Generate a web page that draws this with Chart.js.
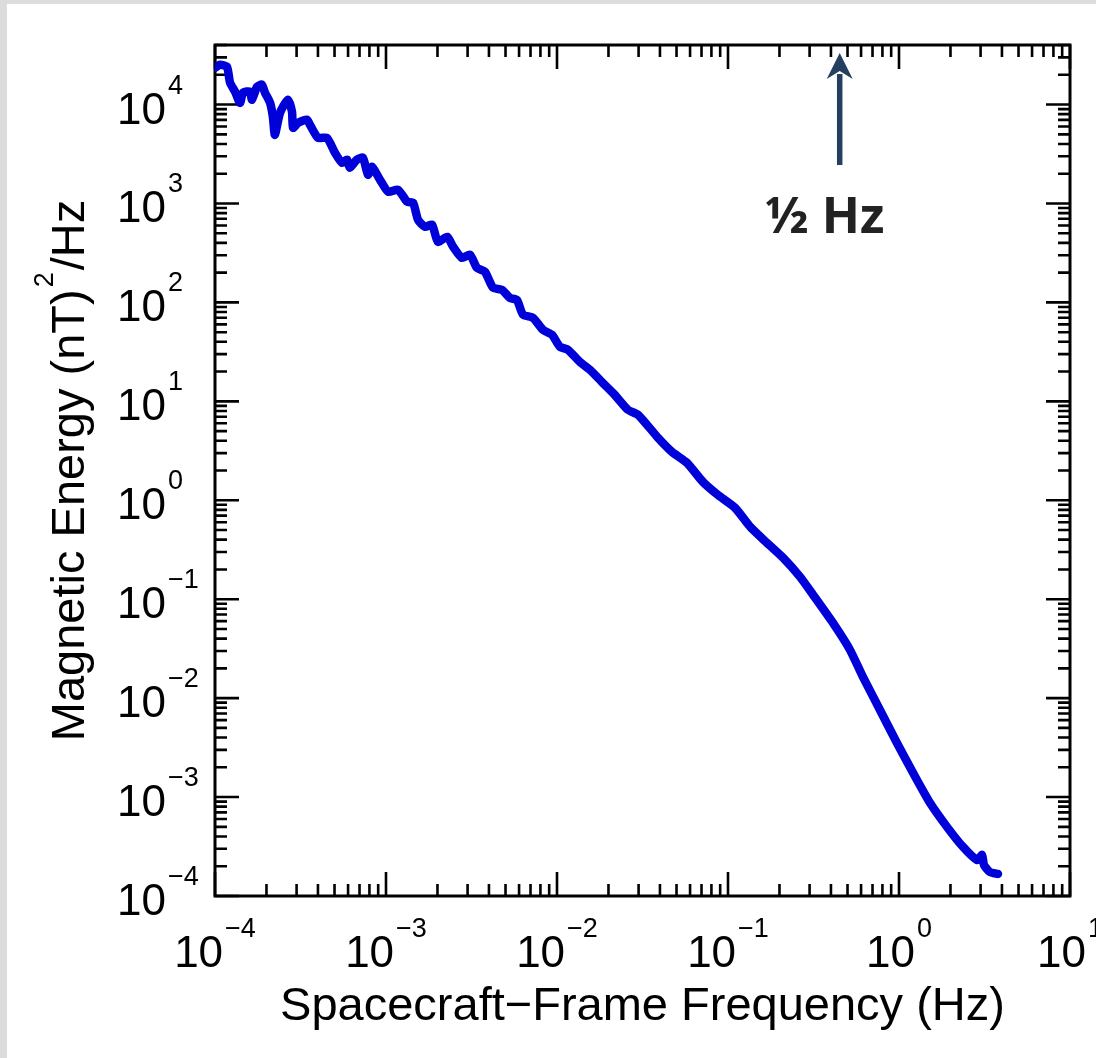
<!DOCTYPE html>
<html>
<head>
<meta charset="utf-8">
<script src="https://cdn.jsdelivr.net/npm/chart.js@4.4.1/dist/chart.umd.min.js"></script>
<style>
  html,body{margin:0;padding:0;background:#dcdcdc;overflow:hidden}
  #panel{position:absolute;left:7px;top:4px;right:0;bottom:0;background:#fff}
  #wrap{position:absolute;left:0;top:0;width:1096px;height:1058px}
</style>
</head>
<body>
<div id="panel"></div>
<div id="wrap"><canvas id="psd" width="1096" height="1058"></canvas></div>
<script>
/* spectrum */
const freq = [
  1.00e-4,1.07e-4,1.175e-4,1.225e-4,1.31e-4,1.40e-4,1.46e-4,1.60e-4,1.645e-4,1.76e-4,
  1.88e-4,1.96e-4,2.10e-4,2.18e-4,2.24e-4,2.40e-4,2.67e-4,2.82e-4,2.86e-4,3.06e-4,
  3.45e-4,3.59e-4,4.00e-4,4.52e-4,5.03e-4,5.53e-4,5.92e-4,6.15e-4,6.76e-4,7.33e-4,
  7.85e-4,8.28e-4,9.22e-4,1.03e-3,1.175e-3,1.33e-3,1.44e-3,1.54e-3,1.69e-3,1.86e-3,
  2.01e-3,2.28e-3,2.47e-3,2.78e-3,3.10e-3,3.40e-3,3.79e-3,4.22e-3,4.77e-3,5.31e-3,
  5.83e-3,6.33e-3,7.24e-3,8.28e-3,9.35e-3,1.04e-2,1.16e-2,1.36e-2,1.56e-2,1.83e-2,
  2.18e-2,2.60e-2,2.98e-2,3.90e-2,4.71e-2,5.76e-2,7.14e-2,8.74e-2,0.110,0.135,
  0.169,0.210,0.264,0.314,0.411,0.517,0.615,0.774,0.973,1.21,
  1.52,1.91,2.37,2.86,3.06,3.14,3.40,3.79
];
const energy = [
  2.35e4,2.52e4,2.41e4,1.66e4,1.35e4,1.04e4,1.32e4,1.35e4,1.12e4,1.51e4,
  1.59e4,1.32e4,1.04e4,7.53e3,4.95e3,8.26e3,1.12e4,8.45e3,5.82e3,6.54e3,
  7.02e3,6.25e3,4.61e3,4.61e3,3.26e3,2.58e3,2.77e3,2.30e3,2.77e3,2.90e3,
  1.95e3,2.35e3,1.74e3,1.31e3,1.38e3,1.04e3,1.02e3,684,581,609,
  410,460,365,282,303,224,204,141,134,111,
  106,75.0,69.9,52.8,47.0,35.6,33.2,25.1,20.8,15.7,
  11.6,8.20,7.31,4.28,3.08,2.39,1.53,1.13,0.838,0.538,
  0.371,0.262,0.168,0.111,0.0575,0.0307,0.0164,7.60e-3,3.52e-3,1.75e-3,
  8.71e-4,4.99e-4,3.13e-4,2.31e-4,2.60e-4,2.06e-4,1.75e-4,1.67e-4
];

/* axes */
const xDecades = [-4,-3,-2,-1,0,1];
const yDecades = [-4,-3,-2,-1,0,1,2,3,4];
const xTitle = "Spacecraft\u2212Frame Frequency (Hz)";
const yTitleParts = ["Magnetic Energy (nT)", "2", "/Hz"];

/* annotation */
const markFreq = 0.45;
const markText = "\u00bd Hz";

function expText(d){
  return d < 0 ? "\u2212" + (-d) : String(d);
}

const framePlugin = {
  id: 'frame',
  beforeDatasetsDraw(chart){
    const {ctx, chartArea:a, scales:{x, y}} = chart;
    ctx.save();
    ctx.strokeStyle = '#000';
    ctx.lineWidth = 2.6;
    ctx.beginPath();
    xDecades.forEach(d=>{
      for(let m=1;m<=9;m++){
        const v = m*Math.pow(10,d);
        if(v < x.min*0.999 || v > x.max*1.001) continue;
        const px = x.getPixelForValue(v);
        const len = m===1 ? 24 : 12;
        ctx.moveTo(px, a.bottom); ctx.lineTo(px, a.bottom-len);
        ctx.moveTo(px, a.top); ctx.lineTo(px, a.top+len);
      }
    });
    yDecades.forEach(d=>{
      for(let m=1;m<=9;m++){
        const v = m*Math.pow(10,d);
        if(v < y.min*0.999 || v > y.max*1.001) continue;
        const py = y.getPixelForValue(v);
        const len = m===1 ? 24 : 12;
        ctx.moveTo(a.left, py); ctx.lineTo(a.left+len, py);
        ctx.moveTo(a.right, py); ctx.lineTo(a.right-len, py);
      }
    });
    ctx.stroke();
    ctx.lineWidth = 3;
    ctx.strokeRect(a.left, a.top, a.right-a.left, a.bottom-a.top);
    ctx.restore();
  },
  afterDraw(chart){
    const {ctx, chartArea:a, scales:{x, y}} = chart;
    const big = '44px "Liberation Sans", Arial, sans-serif';
    const small = '27px "Liberation Sans", Arial, sans-serif';
    ctx.save();
    ctx.fillStyle = '#000';
    ctx.textBaseline = 'alphabetic';

    // x tick labels
    xDecades.forEach(d=>{
      const px = x.getPixelForValue(Math.pow(10,d));
      ctx.font = big;
      const w1 = ctx.measureText("10").width;
      ctx.font = small;
      const w2 = ctx.measureText(expText(d)).width;
      const x0 = px - (w1+2+w2)/2;
      ctx.textAlign = 'left';
      ctx.font = big;
      ctx.fillText("10", x0, a.bottom+71);
      ctx.font = small;
      ctx.fillText(expText(d), x0+w1+2, a.bottom+41);
    });

    // y tick labels
    yDecades.forEach(d=>{
      const py = y.getPixelForValue(Math.pow(10,d));
      ctx.font = big;
      ctx.textAlign = 'right';
      ctx.fillText("10", a.left-49, py+19);
      ctx.font = small;
      ctx.textAlign = 'left';
      ctx.fillText(expText(d), a.left-47, py-11);
    });

    // x title
    ctx.font = '47px "Liberation Sans", Arial, sans-serif';
    ctx.textAlign = 'center';
    ctx.fillText(xTitle, (a.left+a.right)/2, 1020);

    // y title with superscript
    ctx.save();
    ctx.translate(84, (a.top+a.bottom)/2);
    ctx.rotate(-Math.PI/2);
    ctx.textAlign = 'left';
    const tf = '47px "Liberation Sans", Arial, sans-serif';
    ctx.font = tf;
    const wA = ctx.measureText(yTitleParts[0]).width;
    const wC = ctx.measureText(yTitleParts[2]).width;
    ctx.font = small;
    const wB = ctx.measureText(yTitleParts[1]).width;
    let tx = -(wA+wB+4+wC)/2;
    ctx.font = tf;
    ctx.fillText(yTitleParts[0], tx, 0);
    ctx.font = small;
    ctx.fillText(yTitleParts[1], tx+wA+2, -31);
    ctx.font = tf;
    ctx.fillText(yTitleParts[2], tx+wA+wB+4, 0);
    ctx.restore();

    // ½ Hz arrow
    const ax = x.getPixelForValue(markFreq);
    ctx.strokeStyle = '#243f60';
    ctx.fillStyle = '#243f60';
    ctx.lineWidth = 5.5;
    ctx.beginPath();
    ctx.moveTo(ax, 165); ctx.lineTo(ax, 74);
    ctx.stroke();
    ctx.beginPath();
    ctx.moveTo(ax, 53);
    ctx.lineTo(ax+13, 79);
    ctx.lineTo(ax, 71);
    ctx.lineTo(ax-13, 79);
    ctx.closePath();
    ctx.fill();

    ctx.fillStyle = '#222';
    ctx.font = 'bold 50px "Open Sans", sans-serif';
    ctx.textAlign = 'center';
    ctx.fillText(markText, ax-15, 233);
    ctx.restore();
  }
};

new Chart(document.getElementById('psd'), {
  type: 'line',
  data: {
    datasets: [{
      data: freq.map((f,i)=>({x:f, y:energy[i]})),
      borderColor: '#0000d8',
      borderWidth: 8.5,
      borderCapStyle: 'round',
      borderJoinStyle: 'round',
      pointRadius: 0,
      tension: 0.2,
      clip: 0
    }]
  },
  options: {
    responsive: false,
    animation: false,
    events: [],
    layout: {padding: {left:215, top:45, right:26, bottom:162}},
    plugins: {legend:{display:false}, tooltip:{enabled:false}},
    scales: {
      x: {
        type: 'logarithmic', min: 1e-4, max: 10,
        grid: {display:false}, border:{display:false},
        ticks: {display:false},
        afterFit(s){ s.height = 0; }
      },
      y: {
        type: 'logarithmic', min: 1e-4, max: 4e4,
        grid: {display:false}, border:{display:false},
        ticks: {display:false},
        afterFit(s){ s.width = 0; }
      }
    }
  },
  plugins: [framePlugin]
});
</script>
</body>
</html>
